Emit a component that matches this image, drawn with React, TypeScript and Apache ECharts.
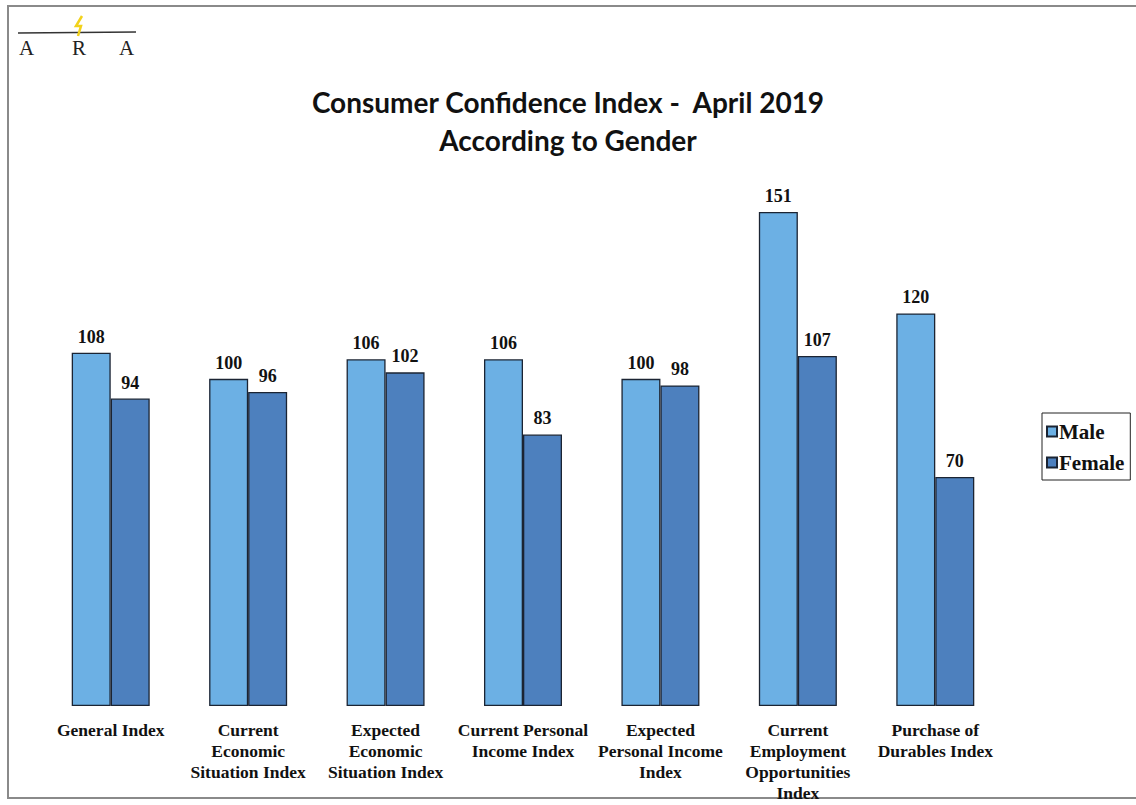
import React, { useEffect, useRef } from "react";
import * as echarts from "echarts";

const categories = [
  "General Index",
  "Current\nEconomic\nSituation Index",
  "Expected\nEconomic\nSituation Index",
  "Current Personal\nIncome Index",
  "Expected\nPersonal Income\nIndex",
  "Current\nEmployment\nOpportunities\nIndex",
  "Purchase of\nDurables Index",
];
const maleValues = [108, 100, 106, 106, 100, 151, 120];
const femaleValues = [94, 96, 102, 83, 98, 107, 70];
const titleLines = ["Consumer Confidence Index -  April 2019", "According to Gender"];
const legendNames = ["Male", "Female"];

const serif = "'Liberation Serif', 'DejaVu Serif', serif";

export default function App() {
  const ref = useRef<HTMLDivElement>(null);
  useEffect(() => {
    if (!ref.current) return;
    const chart = echarts.init(ref.current, null, { renderer: "svg" });
    const labelStyle = {
      show: true,
      position: "top" as const,
      distance: 7,
      fontFamily: serif,
      fontWeight: "bold" as const,
      fontSize: 18,
      color: "#111",
    };
    chart.setOption({
      animation: false,
      backgroundColor: "#ffffff",
      title: {
        text: titleLines.join("\n"),
        left: "center",
        top: 78,
        textStyle: {
          fontFamily: "Lato, 'Open Sans', sans-serif",
          fontWeight: "bold",
          fontSize: 28,
          lineHeight: 38,
          color: "#111",
        },
      },
      legend: {
        orient: "vertical",
        left: 1042,
        top: 413,
        data: legendNames,
        borderColor: "#222",
        borderWidth: 1,
        padding: [8, 6, 7, 4],
        itemWidth: 10,
        itemHeight: 10,
        itemGap: 10,
        icon: "rect",
        textStyle: {
          fontFamily: serif,
          fontWeight: "bold",
          fontSize: 21,
          color: "#111",
          padding: [0, 0, 0, -3],
        },
      },
      grid: { left: 42, right: 132, top: 182.6, bottom: 99, containLabel: false },
      xAxis: {
        type: "category",
        data: categories,
        axisLine: { show: false },
        axisTick: { show: false },
        axisLabel: {
          interval: 0,
          margin: 13,
          fontFamily: serif,
          fontWeight: "bold",
          fontSize: 17.5,
          lineHeight: 21,
          color: "#111",
        },
      },
      yAxis: {
        type: "value",
        min: 0,
        max: 160,
        show: false,
        splitLine: { show: false },
      },
      series: [
        {
          name: legendNames[0],
          type: "bar",
          data: maleValues,
          barWidth: 39,
          barGap: "0%",
          itemStyle: { color: "#6cb0e4", borderColor: "#1b2433", borderWidth: 1.3 },
          label: labelStyle,
        },
        {
          name: legendNames[1],
          type: "bar",
          data: femaleValues,
          barWidth: 39,
          barGap: "0%",
          itemStyle: { color: "#4d80be", borderColor: "#1b2433", borderWidth: 1.3 },
          label: labelStyle,
        },
      ],
      graphic: [
        { type: "line", shape: { x1: 8, y1: 6, x2: 1136, y2: 6 }, style: { stroke: "#8a8a8a", lineWidth: 2 } },
        { type: "line", shape: { x1: 8, y1: 5, x2: 8, y2: 799 }, style: { stroke: "#8a8a8a", lineWidth: 2 } },
        { type: "line", shape: { x1: 8, y1: 798, x2: 1136, y2: 798 }, style: { stroke: "#8a8a8a", lineWidth: 2 } },
        { type: "line", shape: { x1: 18, y1: 33, x2: 136, y2: 32 }, style: { stroke: "#333", lineWidth: 1.5 } },
        {
          type: "polyline",
          shape: { points: [[82, 16], [76, 26], [81, 26], [78, 36]] },
          style: { stroke: "#f2d21b", lineWidth: 2.5, fill: "none" },
        },
        {
          type: "text",
          x: 19,
          y: 37,
          style: { text: "A", font: "21px 'Liberation Serif', serif", fill: "#222" },
        },
        {
          type: "text",
          x: 72,
          y: 37,
          style: { text: "R", font: "21px 'Liberation Serif', serif", fill: "#222" },
        },
        {
          type: "text",
          x: 119,
          y: 37,
          style: { text: "A", font: "21px 'Liberation Serif', serif", fill: "#222" },
        },
      ],
    });
    return () => chart.dispose();
  }, []);
  return (
    <div
      ref={ref}
      style={{ position: "fixed", left: 0, top: 0, width: 1136, height: 805 }}
    />
  );
}
